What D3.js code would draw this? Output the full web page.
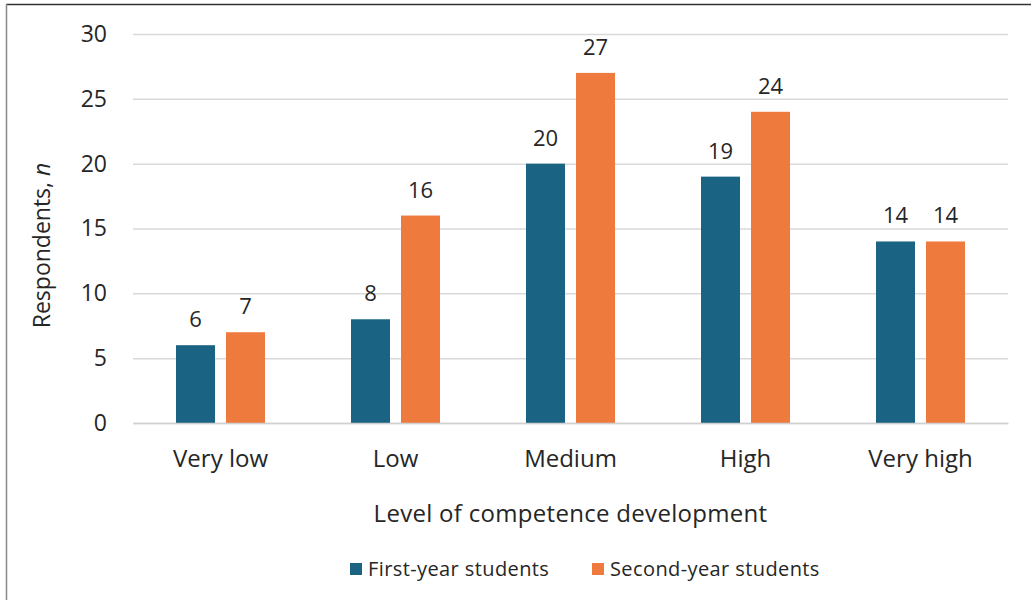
<!DOCTYPE html>
<html>
<head>
<meta charset="utf-8">
<script src="https://cdn.jsdelivr.net/npm/d3@7"></script>
<style>
  body { margin: 0; background: #fff; }
  text { font-family: "Open Sans", "DejaVu Sans", sans-serif; fill: #262626; }
</style>
</head>
<body>
<svg id="chart"></svg>
<script>
// data
const categories = ['Very low', 'Low', 'Medium', 'High', 'Very high'];
const seriesNames = ['First-year students', 'Second-year students'];
const firstYear = [6, 8, 20, 19, 14];
const secondYear = [7, 16, 27, 24, 14];
const yTicks = [0, 5, 10, 15, 20, 25, 30];

const colors = ['#1a6383', '#ee7a3e'];

const W = 1031, H = 600;
const margin = { top: 34, right: 23, bottom: 177, left: 133 };
const width = W - margin.left - margin.right,
  height = H - margin.top - margin.bottom;

const svg = d3.select('#chart').attr('width', W).attr('height', H);

// outer frame
svg.append('line').attr('x1', 6).attr('x2', W).attr('y1', 4.5).attr('y2', 4.5)
  .attr('stroke', '#333').attr('stroke-width', 1.5);
svg.append('line').attr('x1', 6.5).attr('x2', 6.5).attr('y1', 4).attr('y2', H)
  .attr('stroke', '#888').attr('stroke-width', 1.5);

const g = svg.append('g').attr('transform', `translate(${margin.left},${margin.top})`);

const x = d3.scaleBand().domain(categories).range([0, width]);
const y = d3.scaleLinear().domain([0, 30]).range([height, 0]);
const barW = 39, gap = 11;
const xs = d3.scaleBand().domain(seriesNames)
  .range([0, barW * 2 + gap]).paddingInner(gap / (barW + gap));

// gridlines
g.append('g')
  .call(d3.axisLeft(y).tickValues(yTicks).tickSize(-width).tickFormat(''))
  .call(s => s.select('.domain').remove())
  .call(s => s.selectAll('line').attr('stroke', '#d9d9d9').attr('stroke-width', 1.5));

// y tick labels
g.append('g')
  .call(d3.axisLeft(y).tickValues(yTicks).tickSize(0).tickPadding(26))
  .call(s => s.select('.domain').remove())
  .call(s => s.selectAll('text').style('font-size', '23px').attr('fill', '#262626'));

const rows = categories.map((c, i) => ({ cat: c, vals: [firstYear[i], secondYear[i]] }));

const groups = g.selectAll('.grp').data(rows).enter().append('g')
  .attr('transform', d => `translate(${x(d.cat) + (x.bandwidth() - (barW * 2 + gap)) / 2},0)`);

groups.selectAll('rect')
  .data(d => d.vals.map((v, j) => ({ v, s: seriesNames[j], j })))
  .enter().append('rect')
  .attr('x', d => xs(d.s))
  .attr('width', xs.bandwidth())
  .attr('y', d => y(d.v))
  .attr('height', d => y(0) - y(d.v))
  .attr('fill', d => colors[d.j]);

groups.selectAll('.lbl')
  .data(d => d.vals.map((v, j) => ({ v, s: seriesNames[j] })))
  .enter().append('text')
  .attr('x', d => xs(d.s) + xs.bandwidth() / 2)
  .attr('y', d => y(d.v) - 18)
  .attr('text-anchor', 'middle')
  .style('font-size', '22px')
  .text(d => d.v);

// x axis
g.append('g')
  .attr('transform', `translate(0,${height})`)
  .call(d3.axisBottom(x).tickSize(0).tickPadding(27))
  .call(s => s.select('.domain').attr('stroke', '#d0d0d0').attr('stroke-width', 1.5))
  .call(s => s.selectAll('text').style('font-size', '24px').attr('fill', '#262626'));

// axis titles
svg.append('text')
  .attr('x', margin.left + width / 2).attr('y', 522)
  .attr('text-anchor', 'middle').style('font-size', '24px')
  .style('letter-spacing', '0.3px')
  .text('Level of competence development');

const yt = svg.append('text')
  .attr('transform', `translate(50,${margin.top + height / 2 + 17}) rotate(-90)`)
  .attr('text-anchor', 'middle').style('font-size', '23px');
yt.append('tspan').text('Respondents, ');
yt.append('tspan').style('font-style', 'italic').text('n');

// legend
const legend = svg.append('g').attr('transform', 'translate(350,569)');
const legX = [0, 242];
seriesNames.forEach((s, i) => {
  const lg = legend.append('g').attr('transform', `translate(${legX[i]},0)`);
  lg.append('rect').attr('x', 0).attr('y', -6).attr('width', 12).attr('height', 12)
    .attr('fill', colors[i]);
  lg.append('text').attr('x', 18).attr('y', 7).style('font-size', '20px')
    .style('letter-spacing', '0.4px').text(s);
});
</script>
</body>
</html>
